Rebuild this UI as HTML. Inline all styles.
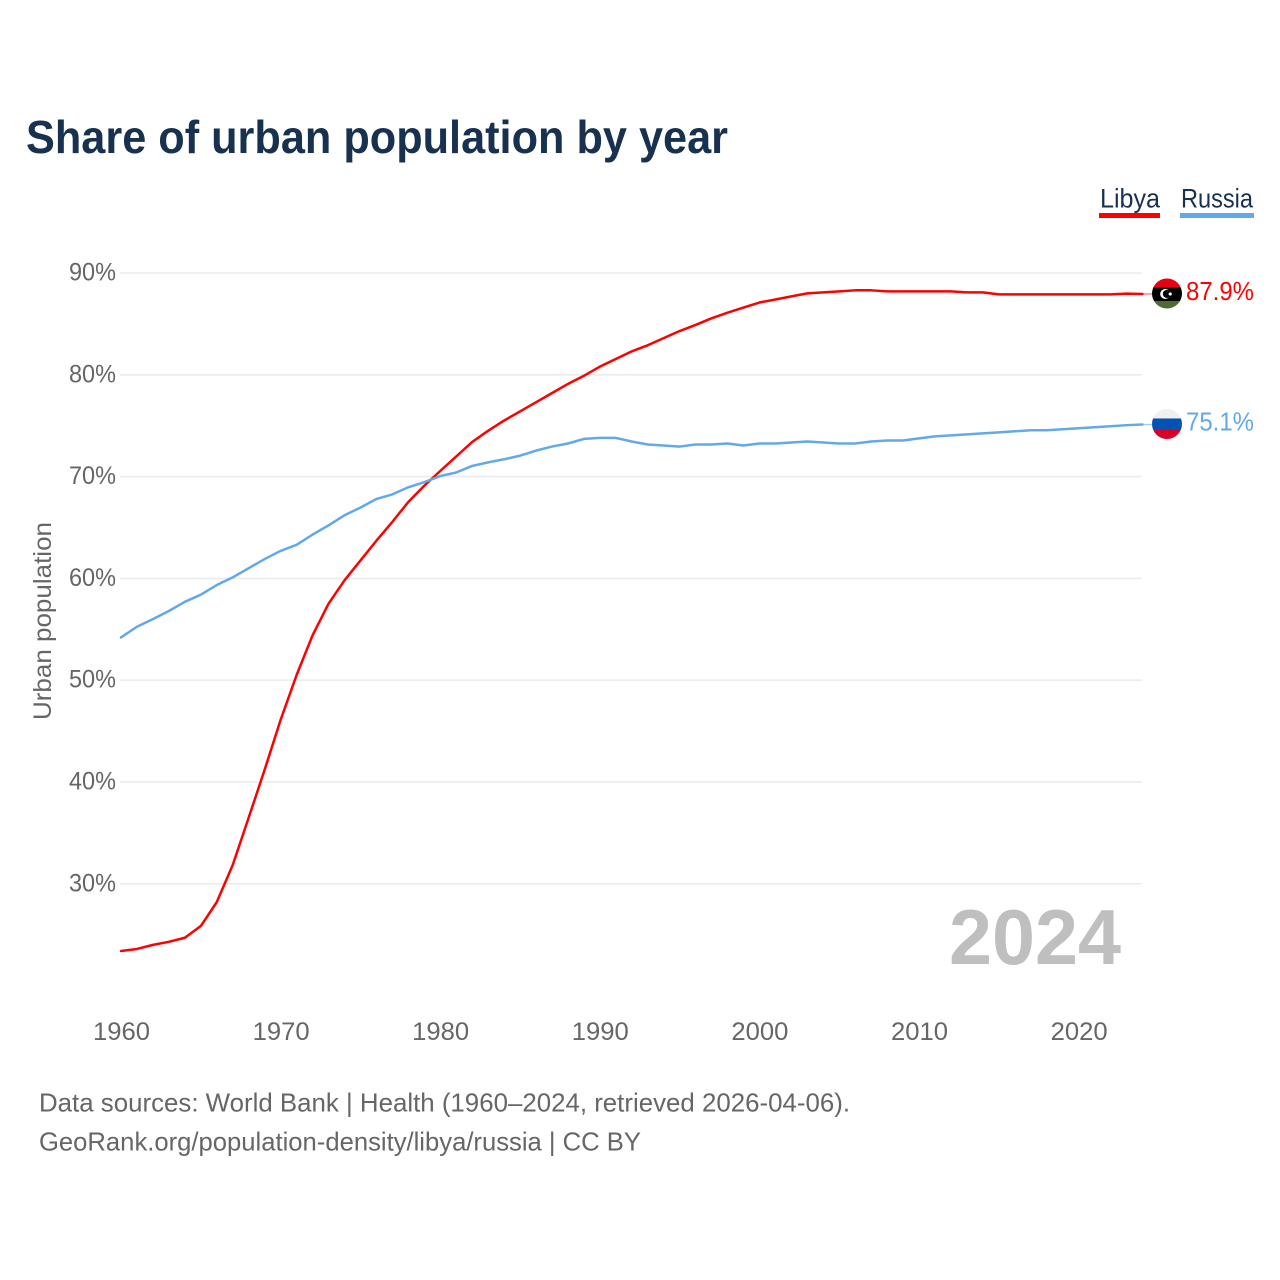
<!DOCTYPE html>
<html lang="en">
<head>
<meta charset="utf-8">
<title>Share of urban population by year</title>
<style>
  html, body { margin: 0; padding: 0; background: #fff; }
  svg { display: block; font-family: "Liberation Sans", sans-serif; }
</style>
</head>
<body>
<svg id="chart" xmlns="http://www.w3.org/2000/svg" width="1280" height="1280" viewBox="0 0 1280 1280">
  <defs>
    <clipPath id="clip-libya"><circle cx="0" cy="0" r="15"></circle></clipPath>
    <clipPath id="clip-russia"><circle cx="0" cy="0" r="15"></circle></clipPath>
  </defs>
  <rect x="0" y="0" width="1280" height="1280" fill="#ffffff"></rect>
  <text x="26" y="153" font-size="46" font-weight="700" fill="#17314f" textLength="702" lengthAdjust="spacingAndGlyphs">Share of urban population by year</text>

  <g>
    <g>
      <text x="1100" y="207.5" font-size="27" fill="#17314f" textLength="60" lengthAdjust="spacingAndGlyphs">Libya</text>
      <rect x="1099" y="213" width="61" height="5" fill="#ff0000"></rect>
    </g>
    <g>
      <text x="1181" y="207.5" font-size="27" fill="#17314f" textLength="72" lengthAdjust="spacingAndGlyphs">Russia</text>
      <rect x="1180" y="213" width="74" height="5" fill="#62a8ea"></rect>
    </g>
  </g>

  <g id="grid"></g>
  <g id="y-axis"></g>
  <g id="x-axis"></g>

  <text transform="translate(51,621) rotate(-90)" text-anchor="middle" font-size="25" fill="#666666" textLength="198" lengthAdjust="spacingAndGlyphs">Urban population</text>
  <text x="949" y="964" font-size="78" font-weight="700" fill="#bfbfbf" textLength="172" lengthAdjust="spacingAndGlyphs">2024</text>

  <g id="series"></g>

  <g id="flag-libya">
    <g clip-path="url(#clip-libya)">
      <rect x="-15" y="-15" width="30" height="9" fill="#e70013"></rect>
      <rect x="-15" y="-6" width="30" height="13.5" fill="#000000"></rect>
      <rect x="-15" y="7.5" width="30" height="7.5" fill="#4f6b33"></rect>
      <circle cx="-1.8" cy="0.5" r="5" fill="#ffffff"></circle>
      <circle cx="-0.2" cy="0.5" r="4" fill="#000000"></circle>
      <circle cx="3.2" cy="0.5" r="1.6" fill="#ffffff"></circle>
    </g>
  </g>
  <g id="flag-russia">
    <g clip-path="url(#clip-russia)">
      <rect x="-15" y="-15" width="30" height="9.5" fill="#f0f0f0"></rect>
      <rect x="-15" y="-5.5" width="30" height="11" fill="#0052b4"></rect>
      <rect x="-15" y="5.5" width="30" height="9.5" fill="#d80027"></rect>
    </g>
  </g>

  <text x="39" y="1111.5" font-size="26" fill="#666666" textLength="811" lengthAdjust="spacingAndGlyphs">Data sources: World Bank | Health (1960–2024, retrieved 2026-04-06).</text>
  <text x="39" y="1150.5" font-size="26" fill="#666666" textLength="602" lengthAdjust="spacingAndGlyphs">GeoRank.org/population-density/libya/russia | CC BY</text>
</svg>
<script>
var startYear = 1960;
var yTicks = [30, 40, 50, 60, 70, 80, 90];
var xTicks = [1960, 1970, 1980, 1990, 2000, 2010, 2020];
var libyaValues = [
  23.4, 23.6, 24.0, 24.3, 24.7, 25.85, 28.2, 31.85, 36.5, 41.2,
  46.1, 50.5, 54.4, 57.5, 59.8, 61.75, 63.7, 65.55, 67.5, 69.1,
  70.55, 71.97, 73.4, 74.5, 75.5, 76.4, 77.3, 78.2, 79.1, 79.9,
  80.8, 81.55, 82.3, 82.9, 83.6, 84.3, 84.9, 85.55, 86.1, 86.6,
  87.1, 87.4, 87.7, 88.0, 88.1, 88.2, 88.3, 88.3, 88.2, 88.2,
  88.2, 88.2, 88.2, 88.1, 88.1, 87.9, 87.9, 87.9, 87.9, 87.9,
  87.9, 87.9, 87.9, 87.97, 87.94
];
var russiaValues = [
  54.2, 55.25, 56.0, 56.8, 57.7, 58.4, 59.35, 60.1, 61.0, 61.9,
  62.7, 63.3, 64.3, 65.2, 66.2, 66.95, 67.8, 68.25, 68.95, 69.45,
  70.05, 70.4, 71.05, 71.4, 71.7, 72.05, 72.55, 72.95, 73.25, 73.7,
  73.8, 73.8, 73.45, 73.15, 73.05, 72.95, 73.15, 73.15, 73.25, 73.05,
  73.25, 73.25, 73.35, 73.45, 73.35, 73.25, 73.25, 73.45, 73.55, 73.55,
  73.75, 73.95, 74.05, 74.15, 74.25, 74.35, 74.45, 74.55, 74.55, 74.65,
  74.75, 74.85, 74.95, 75.05, 75.12
];

var SVG_NS = 'http://www.w3.org/2000/svg';

function xScale(year) {
  return 121 + (year - 1960) * 15.96;
}
function yScale(value) {
  return 273 + (90 - value) * 10.18;
}
function make(tag, attrs, parent, content) {
  var el = document.createElementNS(SVG_NS, tag);
  for (var k in attrs) {
    el.setAttribute(k, attrs[k]);
  }
  if (content !== undefined) {
    el.textContent = content;
  }
  parent.appendChild(el);
  return el;
}

var gridGroup = document.getElementById('grid');
var yAxisGroup = document.getElementById('y-axis');
var xAxisGroup = document.getElementById('x-axis');
var seriesGroup = document.getElementById('series');

yTicks.forEach(function (tick) {
  var line = make('line', { x1: 120, x2: 1142, y1: yScale(tick), y2: yScale(tick), stroke: '#ececec', 'stroke-width': 1.6 }, gridGroup);
  
  
  var label = make('text', { x: 116, y: yScale(tick) + 7.5, 'text-anchor': 'end', 'font-size': 25, fill: '#666666', textLength: 47, lengthAdjust: 'spacingAndGlyphs' }, yAxisGroup, tick + '%');
  
  
});

xTicks.forEach(function (tick) {
  var label = make('text', { x: xScale(tick) + 0.5, y: 1040, 'text-anchor': 'middle', 'font-size': 25, fill: '#666666', textLength: 57, lengthAdjust: 'spacingAndGlyphs' }, xAxisGroup, String(tick));
  
  
});

function drawSeries(values, color, key, flagId) {
  var d = values.map(function (v, i) {
    return (i ? 'L' : 'M') + xScale(startYear + i).toFixed(2) + ' ' + yScale(v).toFixed(2);
  }).join(' ');
  var path = make('path', { d: d, fill: 'none', stroke: color, 'stroke-width': 2.5, 'stroke-linejoin': 'round', 'stroke-linecap': 'round' }, seriesGroup);
  
  

  var last = values[values.length - 1];
  var endX = xScale(startYear + values.length - 1);
  var endY = yScale(last);
  var connector = make('line', { x1: endX, x2: 1153, y1: endY, y2: endY, stroke: color, 'stroke-width': 1.2, opacity: 0.6 }, seriesGroup);
  
  

  document.getElementById(flagId).setAttribute('transform', 'translate(1167,' + (endY - 0.5).toFixed(2) + ')');

  var label = make('text', { x: 1186, y: endY + 6, 'font-size': 26, fill: color, textLength: 68, lengthAdjust: 'spacingAndGlyphs' }, seriesGroup, last.toFixed(1) + '%');
  
  
}

drawSeries(libyaValues, '#ff0000', 'libya', 'flag-libya');
drawSeries(russiaValues, '#62a8ea', 'russia', 'flag-russia');
</script>
</body>
</html>
